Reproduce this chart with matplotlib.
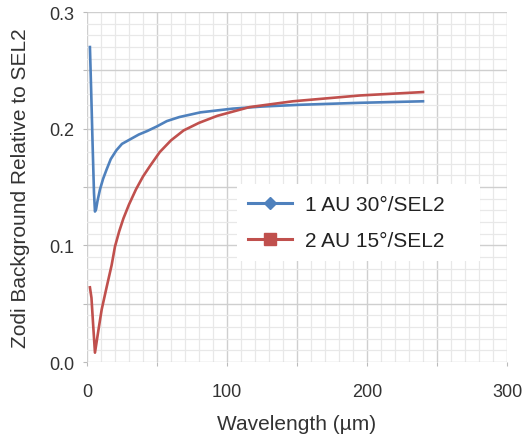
import matplotlib
matplotlib.use("Agg")
import matplotlib.pyplot as plt
from matplotlib.lines import Line2D
from matplotlib.ticker import MultipleLocator, FuncFormatter

plt.rcParams['font.family'] = ['Liberation Sans', 'DejaVu Sans']

# wavelength (um) and zodi background relative to SEL2
wl_1au = [2.1, 3.0, 4.0, 5.0, 5.7, 6.5, 7.5, 9.3, 11.5, 14, 17, 21, 25, 31, 37,
          43, 50, 57, 66, 81, 104, 125, 152, 195, 240]
zodi_1au = [0.270, 0.232, 0.187, 0.145, 0.129, 0.131, 0.138, 0.148, 0.157, 0.165,
            0.174, 0.1815, 0.187, 0.191, 0.195, 0.198, 0.202, 0.2065, 0.210, 0.214,
            0.2172, 0.219, 0.2205, 0.2222, 0.2235]

wl_2au = [2.1, 3.2, 4.5, 5.7, 8.0, 10.5, 14, 17.6, 20, 23, 26, 30, 35, 40, 45,
          52, 60, 69, 80, 93, 116, 147, 195, 240]
zodi_2au = [0.064, 0.055, 0.030, 0.008, 0.026, 0.045, 0.064, 0.083, 0.099, 0.112,
            0.123, 0.135, 0.148, 0.159, 0.168, 0.180, 0.190, 0.1985, 0.205, 0.211,
            0.2185, 0.2235, 0.2285, 0.2314]

labels = ['1 AU 30°/SEL2', '2 AU 15°/SEL2']
blue = '#4F81BD'
red = '#C0504D'

fig = plt.figure(figsize=(5.24, 4.35), dpi=100)
ax = fig.add_axes([0.166, 0.1655, 0.8016, 0.8045])

ax.plot(wl_1au, zodi_1au, color=blue, lw=1.9, zorder=3)
ax.plot(wl_2au, zodi_2au, color=red, lw=1.9, zorder=3)

ax.set_xlim(0, 300)
ax.set_ylim(0, 0.3)

# major grid every 50 / 0.05, labels only every 100 / 0.1
ax.xaxis.set_major_locator(MultipleLocator(50))
ax.xaxis.set_minor_locator(MultipleLocator(10))
ax.yaxis.set_major_locator(MultipleLocator(0.05))
ax.yaxis.set_minor_locator(MultipleLocator(0.01))
ax.xaxis.set_major_formatter(FuncFormatter(
    lambda v, p: '%d' % round(v) if round(v) % 100 == 0 else ''))
ax.yaxis.set_major_formatter(FuncFormatter(
    lambda v, p: '%.1f' % v if round(v * 100) % 10 == 0 else ''))

ax.grid(which='major', color='#cfcfcf', lw=1.0)
ax.grid(which='minor', color='#e8e8e8', lw=0.9)
ax.set_axisbelow(True)
for s in ax.spines.values():
    s.set_visible(False)

ax.tick_params(which='major', length=3, color='#bbbbbb', labelsize=13,
               labelcolor='#333333')
ax.tick_params(axis='x', which='major', pad=12)
ax.tick_params(axis='y', which='major', pad=6)
ax.tick_params(which='minor', length=0)

ax.set_xlabel('Wavelength (µm)', fontsize=15, color='#333333')
ax.set_ylabel('Zodi Background Relative to SEL2', fontsize=15, color='#333333')
ax.xaxis.set_label_coords(0.5, -0.148)
ax.xaxis.label.set_va('top')
ax.yaxis.set_label_coords(-0.136, 0.5)

handles = [
    Line2D([], [], color=blue, lw=2.2, marker='D', markersize=6),
    Line2D([], [], color=red, lw=2.2, marker='s', markersize=8),
]
leg = ax.legend(handles, labels, loc='upper left',
                bbox_to_anchor=(0.357, 0.289, 0.579, 0.22), mode='expand',
                borderaxespad=0, fontsize=15, frameon=True, fancybox=False,
                framealpha=1, edgecolor='none', facecolor='white',
                handlelength=2.1, handletextpad=0.6, labelspacing=0.8,
                borderpad=0.55)
for t in leg.get_texts():
    t.set_color('#222222')

fig.savefig('out.png', dpi=100)
